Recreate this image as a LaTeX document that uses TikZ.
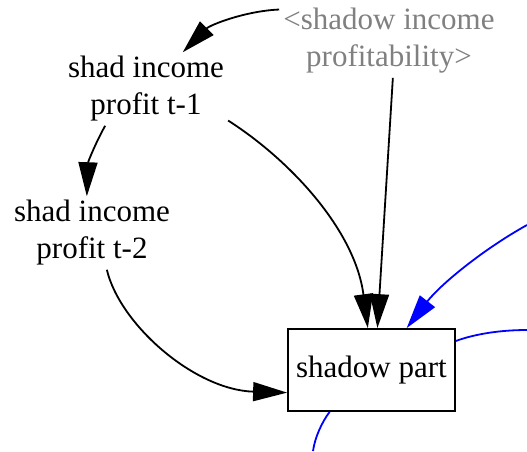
\documentclass[tikz,border=0pt]{standalone}
\usepackage{fontspec}
\setmainfont{Liberation Serif}
\usetikzlibrary{arrows.meta}
\begin{document}
\begin{tikzpicture}[x=1pt,y=-1pt,
  var/.style={align=center,inner sep=4pt,font=\fontsize{31}{37}\selectfont},
  arr/.style={line width=1.8pt,-{Triangle[length=34pt,width=19pt]}},
  flow/.style={line width=1.8pt,blue}]
\useasboundingbox (0,0) rectangle (527,451);

% the variables
\node[var] (t1) at (146,89) {shad income\\profit t-1};
\node[var] (t2) at (92,233) {shad income\\profit t-2};
\node[var,text=gray] (prof) at (389,41) {<shadow income\\profitability>};
\node[var,draw,line width=1.8pt,minimum width=167pt,minimum height=82pt] (part) at (371.5,370) {shadow part};

% free ends of the blue flows
\coordinate (in1) at (527,225);
\coordinate (out1) at (527,330);
\coordinate (out2) at (313,451);

% links
\draw[arr] (prof.164) .. controls (245,11) and (210,25) .. (t1.45);
\draw[arr] (t1.-138) .. controls (96,142) and (88,162) .. (t2.98);
\draw[arr] (t1.-21) .. controls (290,160) and (355,230) .. (part.95);
\draw[arr] (prof.-84) -- (part.82);
\draw[arr] (t2.-68) .. controls (120,325) and (195,390) .. (part.195);

% flows
\draw[flow,arr] (in1) .. controls (482,250) and (440,285) .. (part.50);
\draw[flow] (part.19) .. controls (475,334) and (500,330) .. (out1);
\draw[flow] (part.-135) .. controls (322,422) and (315,437) .. (out2);

\end{tikzpicture}
\end{document}
